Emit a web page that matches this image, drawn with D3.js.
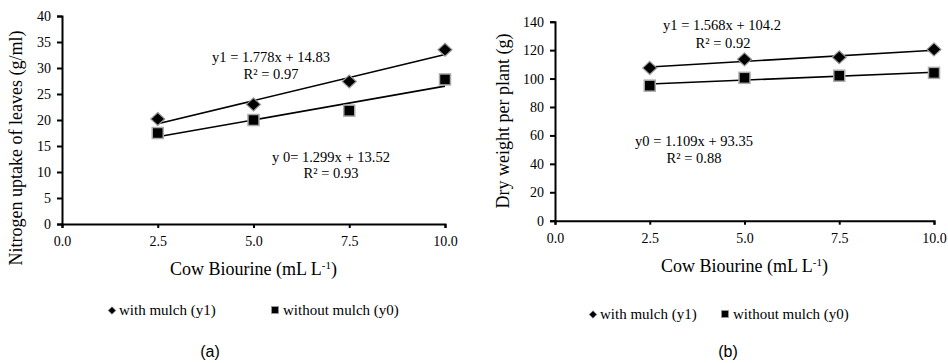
<!DOCTYPE html>
<html><head><meta charset="utf-8">
<script src="https://cdn.jsdelivr.net/npm/d3@7"></script>
<style>
body{margin:0;background:#fff;}
svg{display:block;}
.axis path,.axis line{stroke:#000;stroke-width:2;}
</style></head>
<body>
<script>
// ---- data ----
const doses = [2.5, 5.0, 7.5, 10.0];
const xTicks = [0, 2.5, 5, 7.5, 10];
// Chart (a): Nitrogen uptake of leaves
const nWithMulch = [20.2, 23.0, 27.4, 33.5];
const nWithoutMulch = [17.5, 20.0, 21.8, 27.8];
const nTrendWith = {slope: 1.778, intercept: 14.83};
const nTrendWithout = {slope: 1.299, intercept: 13.52};
const nYTicks = [0, 5, 10, 15, 20, 25, 30, 35, 40];
// Chart (b): Dry weight per plant
const dwWithMulch = [107.5, 113.5, 115.0, 120.5];
const dwWithoutMulch = [95.0, 100.5, 102.0, 104.0];
const dwTrendWith = {slope: 1.568, intercept: 104.2};
const dwTrendWithout = {slope: 1.109, intercept: 93.35};
const dwYTicks = [0, 20, 40, 60, 80, 100, 120, 140];
const legendLabels = ["with mulch (y1)", "without mulch (y0)"];

const SERIF = "'Liberation Serif','Times New Roman',Tinos,Times,'DejaVu Serif',serif";
const svg = d3.select("body").append("svg").attr("width", 948).attr("height", 363);

function diamondPath(hw, hh) {
  return `M0,${-hh}L${hw},0L0,${hh}L${-hw},0Z`;
}

function drawChart(cfg) {
  const x = d3.scaleLinear().domain([0, 10]).range([cfg.x0, cfg.x1]);
  const y = d3.scaleLinear().domain([0, cfg.yMax]).range([cfg.y0, cfg.y1]);
  const g = svg.append("g");

  // trend lines
  [cfg.trendWith, cfg.trendWithout].forEach(t => {
    g.append("line")
      .attr("x1", x(doses[0])).attr("y1", y(t.slope * doses[0] + t.intercept))
      .attr("x2", x(doses[doses.length - 1])).attr("y2", y(t.slope * doses[doses.length - 1] + t.intercept))
      .attr("stroke", "#000").attr("stroke-width", 1.6);
  });

  // axes
  const ya = g.append("g").attr("class", "axis").attr("transform", `translate(${cfg.x0},0)`)
    .call(d3.axisLeft(y).tickValues(cfg.yTicks).tickSize(5).tickSizeOuter(5).tickPadding(6).tickFormat(d3.format("d")));
  const xa = g.append("g").attr("class", "axis").attr("transform", `translate(0,${cfg.y0})`)
    .call(d3.axisBottom(x).tickValues(xTicks).tickSize(4).tickSizeOuter(4).tickPadding(8).tickFormat(d3.format(".1f")));
  [ya, xa].forEach(a => a.attr("font-family", null).attr("font-size", null)
    .selectAll("text").style("font-family", SERIF).style("font-size", "14px").attr("fill", "#000"));

  // markers
  g.selectAll(".dw").data(doses).enter().append("path")
    .attr("transform", (d, i) => `translate(${x(d)},${y(cfg.withMulch[i])})`)
    .attr("d", diamondPath(7, 6.5))
    .attr("fill", "#000").attr("stroke", "#999").attr("stroke-width", 1.2);
  g.selectAll(".sq").data(doses).enter().append("rect")
    .attr("x", d => x(d) - 5.5).attr("y", (d, i) => y(cfg.withoutMulch[i]) - 5.5)
    .attr("width", 11).attr("height", 11)
    .attr("fill", "#000").attr("stroke", "#aaa").attr("stroke-width", 1.5);

  // y axis title
  g.append("text").attr("transform", `translate(${cfg.ytX},${cfg.ytY}) rotate(-90)`)
    .attr("text-anchor", "middle").style("font-family", SERIF).style("font-size", "18px").text(cfg.yTitle);
  // x axis title
  const xt = g.append("text").attr("x", (cfg.x0 + cfg.x1) / 2).attr("y", cfg.xtY)
    .attr("text-anchor", "middle").style("font-family", SERIF).style("font-size", "18px");
  xt.append("tspan").text("Cow Biourine (mL L");
  xt.append("tspan").attr("dy", -6).style("font-size", "11px").text("-1");
  xt.append("tspan").attr("dy", 6).text(")");

  // equations
  cfg.eqs.forEach(e => {
    g.append("text").attr("x", e.x).attr("y", e.y).attr("text-anchor", "middle")
      .style("font-family", SERIF).style("font-size", "14.5px").text(e.t);
  });

  // legend
  const lg = g.append("g");
  lg.append("path").attr("transform", `translate(${cfg.leg[0]},${cfg.legY - 4.5})`)
    .attr("d", diamondPath(3.8, 3.8)).attr("fill", "#000").attr("stroke", "#888").attr("stroke-width", 0.6);
  lg.append("text").attr("x", cfg.leg[0] + 7).attr("y", cfg.legY).style("font-family", SERIF).style("font-size", "15px").text(legendLabels[0]);
  lg.append("rect").attr("x", cfg.leg[1] - 3.5).attr("y", cfg.legY - 8.5).attr("width", 7).attr("height", 7)
    .attr("fill", "#000").attr("stroke", "#999").attr("stroke-width", 0.8);
  lg.append("text").attr("x", cfg.leg[1] + 8).attr("y", cfg.legY).style("font-family", SERIF).style("font-size", "15px").text(legendLabels[1]);

  // panel label
  g.append("text").attr("x", cfg.lbX).attr("y", 357).attr("text-anchor", "middle")
    .style("font-family", "'Liberation Sans Narrow','Liberation Sans',Arial,sans-serif").style("font-size", "16px").text(cfg.label);
}

drawChart({
  x0: 62, x1: 445, y0: 224, y1: 16, yMax: 40, yTicks: nYTicks,
  withMulch: nWithMulch, withoutMulch: nWithoutMulch,
  trendWith: nTrendWith, trendWithout: nTrendWithout,
  yTitle: "Nitrogen uptake of leaves (g/ml)", ytX: 22, ytY: 148, xtY: 275,
  eqs: [
    {x: 271, y: 62, t: "y1 = 1.778x + 14.83"},
    {x: 271, y: 79, t: "R² = 0.97"},
    {x: 331, y: 162, t: "y 0= 1.299x + 13.52"},
    {x: 331, y: 178, t: "R² = 0.93"}
  ],
  leg: [112, 275], legY: 315, lbX: 210, label: "(a)"
});

drawChart({
  x0: 555, x1: 934, y0: 220.7, y1: 21.7, yMax: 140, yTicks: dwYTicks,
  withMulch: dwWithMulch, withoutMulch: dwWithoutMulch,
  trendWith: dwTrendWith, trendWithout: dwTrendWithout,
  yTitle: "Dry weight per plant (g)", ytX: 509, ytY: 121, xtY: 272,
  eqs: [
    {x: 722, y: 30, t: "y1 = 1.568x + 104.2"},
    {x: 723, y: 48, t: "R² = 0.92"},
    {x: 694, y: 146, t: "y0 = 1.109x + 93.35"},
    {x: 694, y: 163, t: "R² = 0.88"}
  ],
  leg: [593, 725], legY: 319, lbX: 728, label: "(b)"
});
</script>
</body></html>
